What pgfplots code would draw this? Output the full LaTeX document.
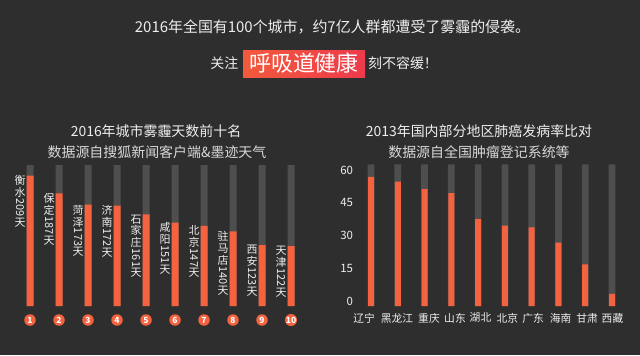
\documentclass[border=0pt]{standalone}
\usepackage{pgfplots}
\pgfplotsset{compat=1.18}
\usepackage{fontspec}
\setmainfont{Noto Sans CJK SC}
\usepackage{graphicx}
\definecolor{bg}{HTML}{2E2E2E}
\definecolor{track}{HTML}{4E4E4E}
\definecolor{barc}{HTML}{F4623F}
\definecolor{txt}{HTML}{EEEEEE}
\definecolor{sub}{HTML}{D8D8D8}
\definecolor{boxL}{HTML}{F25A3C}
\definecolor{boxR}{HTML}{EE3A4C}
\newcommand\fs[1]{\fontsize{#1}{#1}\selectfont}
\newcommand\vf{\fontsize{11}{12}\selectfont}
\newcommand\rd[1]{\rotatebox[origin=c]{-90}{#1}}
\begin{document}
\begin{tikzpicture}[x=1bp,y=1bp]
\fill[bg] (0,0) rectangle (640,355);
% headline
\node[text=txt, font=\fs{15}, inner sep=0pt] at (332.5,328) {2016年全国有100个城市，约7亿人群都遭受了雾霾的侵袭。};
\node[left color=boxL, right color=boxR, minimum width=122bp, minimum height=27bp, inner sep=0pt, text=white, font=\fs{22}] at (304,291.5) {呼吸道健康};
\node[anchor=east, inner sep=0pt, text=txt, font=\fs{14}] at (238.5,291.5) {关注};
\node[anchor=west, inner sep=0pt, text=txt, font=\fs{14}] at (368,291.5) {刻不容缓！};
% chart titles
\node[text=txt, font=\fs{14}, inner sep=0pt] at (156,224) {2016年城市雾霾天数前十名};
\node[text=sub, font=\fs{14}, inner sep=0pt] at (157,203) {数据源自搜狐新闻客户端\&墨迹天气};
\node[text=txt, font=\fs{14}, inner sep=0pt] at (479,224) {2013年国内部分地区肺癌发病率比对};
\node[text=sub, font=\fs{14}, inner sep=0pt] at (479,203) {数据源自全国肿瘤登记系统等};
% left chart
\begin{axis}[at={(1bp,49bp)}, anchor=south west, scale only axis,
  width=319bp, height=141bp, xmin=0, xmax=11, ymin=48, ymax=222,
  axis line style={draw=none}, tick style={draw=none}, ytick=\empty,
  clip mode=individual,
  xtick={1,2,3,4,5,6,7,8,9,10},
  xticklabels={1,2,3,4,5,6,7,8,9,10},
  xticklabel style={circle, fill=barc, text=white, font=\fs{8.5}\bfseries,
    inner sep=0pt, minimum size=11.5bp, anchor=center, yshift=-14bp}]
\addplot[ybar, bar width=7bp, bar shift=0pt, fill=track, draw=none]
  coordinates {(1,222) (2,222) (3,222) (4,222) (5,222) (6,222) (7,222) (8,222) (9,222) (10,222)};
\addplot[ybar, bar width=7bp, bar shift=0pt, fill=barc, draw=none]
  coordinates {(1,209) (2,187) (3,173) (4,172) (5,161) (6,151) (7,147) (8,140) (9,123) (10,122)};
\begin{scope}[every node/.style={anchor=north, inner sep=0pt, align=center, font=\vf, text=txt, xshift=-10bp}]
\node at (axis cs:1,209) {衡\\水\\\rd{209}\\天};
\node at (axis cs:2,187) {保\\定\\\rd{187}\\天};
\node at (axis cs:3,173) {菏\\泽\\\rd{173}\\天};
\node at (axis cs:4,172) {济\\南\\\rd{172}\\天};
\node at (axis cs:5,161) {石\\家\\庄\\\rd{161}\\天};
\node at (axis cs:6,151) {咸\\阳\\\rd{151}\\天};
\node at (axis cs:7,147) {北\\京\\\rd{147}\\天};
\node at (axis cs:8,140) {驻\\马\\店\\\rd{140}\\天};
\node at (axis cs:9,123) {西\\安\\\rd{123}\\天};
\node at (axis cs:10,122) {天\\津\\\rd{122}\\天};
\end{scope}
\end{axis}
% right chart
\begin{axis}[at={(357.6bp,49bp)}, anchor=south west, scale only axis,
  width=267.8bp, height=141.7bp, xmin=-0.5, xmax=9.5, ymin=0, ymax=64.7,
  axis line style={draw=none}, tick style={draw=none},
  /pgf/number format/assume math mode=true,
  ytick={0,15,30,45,60},
  yticklabel style={font=\fs{11.5}, text=txt, yshift=4.5bp, xshift=-1bp},
  xtick={-0.261,0.971,2.166,3.137,4.089,5.097,6.050,7.077,8.066,9.018},
  xticklabels={辽宁,黑龙江,重庆,山东,湖北,北京,广东,海南,甘肃,西藏},
  xticklabel style={font=\fs{10.8}, text=txt, yshift=-3.5bp}]
\addplot[ybar, bar width=6.7bp, bar shift=0pt, fill=track, draw=none]
  coordinates {(0,64.7) (1,64.7) (2,64.7) (3,64.7) (4,64.7) (5,64.7) (6,64.7) (7,64.7) (8,64.7) (9,64.7)};
\addplot[ybar, bar width=6bp, bar shift=0pt, fill=barc, draw=none]
  coordinates {(0,59.0) (1,56.8) (2,53.4) (3,51.5) (4,39.7) (5,36.7) (6,35.9) (7,28.9) (8,19.0) (9,5.5)};
\end{axis}
\end{tikzpicture}
\end{document}
